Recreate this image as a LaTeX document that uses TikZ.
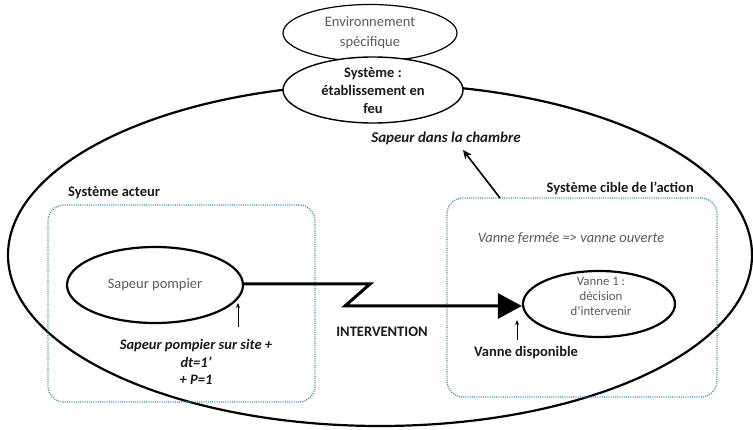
\documentclass[tikz,border=0pt]{standalone}
\usepackage{fontspec}
\setmainfont{Carlito}
\usetikzlibrary{shapes.geometric,arrows.meta}
\definecolor{dotblue}{HTML}{3F8FA8}
\definecolor{txtgray}{HTML}{5A5A5A}
\definecolor{txtdark}{HTML}{1A1A1A}
\begin{document}
\begin{tikzpicture}[x=1pt,y=-1pt,
  txt/.style={font=\fontsize{14.5}{17.5}\selectfont, align=center, inner sep=0pt, text=txtgray},
  btxt/.style={font=\fontsize{14.5}{17.5}\selectfont\bfseries, align=center, inner sep=0pt, text=txtdark},
  bitxt/.style={font=\fontsize{14.5}{17.5}\selectfont\bfseries\itshape, align=center, inner sep=0pt, text=txtdark},
  ell/.style={draw=black, ellipse, inner sep=0pt},
  dotbox/.style={draw=dotblue, line width=1.3pt, dash pattern=on 1pt off 1.2pt, rounded corners=16pt, inner sep=0pt},
  smallarrow/.style={draw=black, line width=0.8pt, -{Stealth[length=5pt,width=4pt]}}
]
\useasboundingbox (0,0) rectangle (753,430);

% big system ellipse
\node[ell, line width=2.2pt, minimum width=744pt, minimum height=342pt] (world) at (380,255) {};

% top ellipses
\node[ell, line width=1.2pt, minimum width=174pt, minimum height=57pt] (env) at (370,33) {};
\node[txt, font=\fontsize{14.5}{20}\selectfont] at (env.center) {Environnement\\spécifique};
\node[ell, fill=white, line width=1.4pt, minimum width=180pt, minimum height=66pt] (sys) at (373,90) {};
\node[btxt, font=\fontsize{14.5}{18}\selectfont\bfseries] at (373,91) {Système :\\établissement en\\feu};

% dotted boxes
\node[dotbox, minimum width=267pt, minimum height=197pt] (acteur) at (181.5,303.5) {};
\node[dotbox, minimum width=270pt, minimum height=199pt] (cible) at (582,297.5) {};
\node[btxt, anchor=west] (acteurlbl) at (68,193) {Système acteur};
\node[btxt, anchor=east] (ciblelbl) at (694,188) {Système cible de l’action};

% inner ellipses
\node[ell, line width=2.2pt, minimum width=176pt, minimum height=76pt, txt] (sp) at (155,285) {Sapeur pompier};
\node[ell, line width=2.2pt, minimum width=152pt, minimum height=66pt] (vanne) at (599,304) {};
\node[txt, font=\fontsize{12.8}{15}\selectfont] at (601,296) {Vanne 1 :\\décision\\d’intervenir};

% texts
\node[txt, font=\fontsize{14.5}{17.5}\selectfont\itshape] (ferm) at (571,238) {Vanne fermée => vanne ouverte};
\node[bitxt, font=\fontsize{15}{18}\selectfont\bfseries\itshape] (chambre) at (446,138) {Sapeur dans la chambre};
\node[btxt] (interv) at (382,332) {INTERVENTION};
\node[btxt] (dispo) at (526,353) {Vanne disponible};
\node[bitxt] (site) at (196,362) {Sapeur pompier sur site +\\dt=1’\\+ P=1};

% main connector
\coordinate (z1) at (370,284);
\coordinate (z2) at (345,306);
\draw[line width=3pt, line join=miter, -{Triangle[length=24pt,width=25pt]}]
  (sp.east |- z1) -- (z1) -- (z2) -- (vanne.west |- z2);

% small arrows
\coordinate (a1) at (238,327);
\coordinate (a1h) at (238,303);
\draw[smallarrow] (a1) -- (a1h);
\coordinate (a2) at (517,340);
\coordinate (a2h) at (517,320);
\draw[smallarrow] (a2) -- (a2h);

% arrow to "Sapeur dans la chambre"
\coordinate (ct) at (500,198);
\coordinate (ch) at (463,150);
\draw[line width=1.6pt, -{Stealth[length=9pt,width=8pt]}] (ct) -- (ch);
\end{tikzpicture}
\end{document}
